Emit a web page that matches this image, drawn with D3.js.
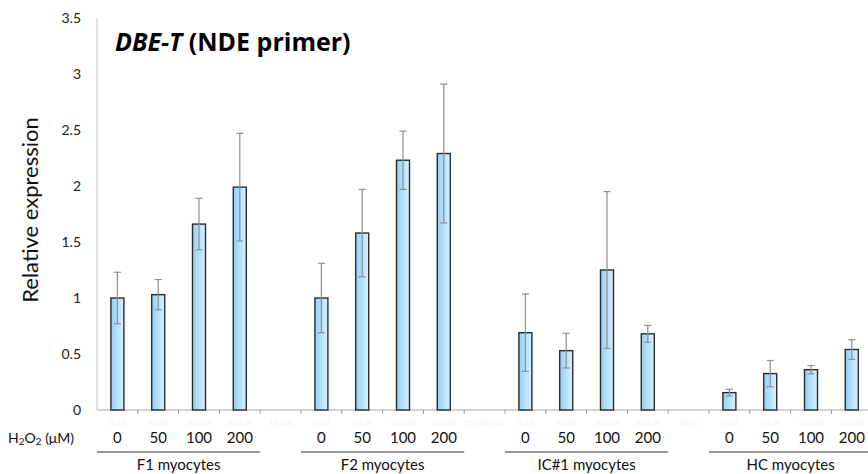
<!DOCTYPE html>
<html>
<head>
<meta charset="utf-8">
<script src="https://cdn.jsdelivr.net/npm/d3@7"></script>
<style>
  body { margin: 0; background: #fff; }
  svg { font-family: Lato, "Open Sans", sans-serif; }
</style>
</head>
<body>
<svg id="chart" width="868" height="474"></svg>
<script>

// data
var groups   = ["F1 myocytes", "F2 myocytes", "IC#1 myocytes", "HC myocytes"];
var doses    = ["0", "50", "100", "200"];
var hiddenLabels = ["0uM", "50uM", "100uM", "200uM", "1512B",
                    "0uM", "50uM", "100uM", "200uM", "1512B bcla",
                    "0uM", "50uM", "100uM", "200uM", "NOB",
                    "0uM", "50uM", "100uM", "200uM"];
var values = [[1.00, 1.03, 1.66, 1.99],
              [1.00, 1.58, 2.23, 2.29],
              [0.69, 0.53, 1.25, 0.68],
              [0.155, 0.325, 0.36, 0.54]];
var errors = [[0.23, 0.135, 0.23, 0.48],
              [0.31, 0.39, 0.26, 0.62],
              [0.345, 0.155, 0.70, 0.075],
              [0.03, 0.117, 0.037, 0.088]];
var yTicks = [0, 0.5, 1, 1.5, 2, 2.5, 3, 3.5];

// one slot per category, a spare slot between groups
var slots = [];
groups.forEach(function(g, gi){
    doses.forEach(function(d, di){ slots.push("g" + gi + "d" + di); });
    if( gi < groups.length - 1 ) slots.push("gap" + gi);
});

var bars = [];
groups.forEach(function(g, gi){
    doses.forEach(function(d, di){
        bars.push({ slot: "g" + gi + "d" + di, dose: d, v: values[gi][di], e: errors[gi][di] });
    });
});

var svg = d3.select("#chart");
var x0 = 97, step = 40.8;
var x = d3.scaleBand().domain(slots).range([x0, x0 + step * slots.length]).paddingInner(0).paddingOuter(0);
var y = d3.scaleLinear().domain([0, 3.5]).range([410, 18]);

// gradient for the bars
var grad = svg.append("defs").append("linearGradient")
    .attr("id", "barfill").attr("x1", "0%").attr("x2", "100%").attr("y1", "0%").attr("y2", "0%");
grad.append("stop").attr("offset", "0%").attr("stop-color", "#8fd1f8");
grad.append("stop").attr("offset", "100%").attr("stop-color", "#dbf1fd");

// y axis line (no tick marks) and labels
svg.append("line")
    .attr("x1", x0).attr("x2", x0).attr("y1", y(3.5)).attr("y2", y(0))
    .attr("stroke", "#c4c4c4").attr("stroke-width", 1);

svg.append("g").selectAll("text").data(yTicks).join("text")
    .attr("x", 81).attr("y", function(d){ return y(d) + 5; })
    .attr("text-anchor", "end").attr("font-size", 14).attr("fill", "#222")
    .text(function(d){ return d; });

svg.append("text")
    .attr("transform", "translate(38,210) rotate(-90)")
    .attr("text-anchor", "middle").attr("font-size", 22).attr("fill", "#111")
    .text("Relative expression");

// x axis
var xAxis = svg.append("g")
    .attr("transform", "translate(0," + y(0) + ")");
xAxis.append("line")
    .attr("x1", x0).attr("x2", 868).attr("stroke", "#c4c4c4").attr("stroke-width", 1.5);
xAxis.selectAll("line.tick").data(slots).join("line")
    .attr("class", "tick")
    .attr("x1", function(d){ return x(d) + x.bandwidth(); })
    .attr("x2", function(d){ return x(d) + x.bandwidth(); })
    .attr("y1", 0).attr("y2", 4)
    .attr("stroke", "#9a9a9a");
xAxis.selectAll("text.hidden").data(slots).join("text")
    .attr("class", "hidden")
    .attr("x", function(d){ return x(d) + x.bandwidth() / 2; })
    .attr("y", 16)
    .attr("text-anchor", "middle").attr("font-size", 8).attr("fill", "#f3f3f3")
    .text(function(d, i){ return hiddenLabels[i]; });

// bars
var barW = 13;
svg.append("g").selectAll("rect").data(bars).join("rect")
    .attr("x", function(d){ return x(d.slot) + x.bandwidth() / 2 - barW / 2; })
    .attr("y", function(d){ return y(d.v); })
    .attr("width", barW)
    .attr("height", function(d){ return y(0) - y(d.v); })
    .attr("fill", "url(#barfill)")
    .attr("stroke", "#2b2b2b").attr("stroke-width", 1.4);

// error bars
var eb = svg.append("g").attr("stroke", "#8e8e8e").attr("stroke-width", 1.2);
eb.selectAll("line.v").data(bars).join("line")
    .attr("class", "v")
    .attr("x1", function(d){ return x(d.slot) + x.bandwidth() / 2; })
    .attr("x2", function(d){ return x(d.slot) + x.bandwidth() / 2; })
    .attr("y1", function(d){ return y(d.v + d.e); })
    .attr("y2", function(d){ return y(d.v - d.e); });
[1, -1].forEach(function(s){
    eb.selectAll("line.c" + (s > 0 ? "t" : "b")).data(bars).join("line")
        .attr("class", "c" + (s > 0 ? "t" : "b"))
        .attr("x1", function(d){ return x(d.slot) + x.bandwidth() / 2 - 3.5; })
        .attr("x2", function(d){ return x(d.slot) + x.bandwidth() / 2 + 3.5; })
        .attr("y1", function(d){ return y(d.v + s * d.e); })
        .attr("y2", function(d){ return y(d.v + s * d.e); });
});

// dose labels
svg.append("g").selectAll("text").data(bars).join("text")
    .attr("x", function(d){ return x(d.slot) + x.bandwidth() / 2; })
    .attr("y", 443)
    .attr("text-anchor", "middle").attr("font-size", 15).attr("fill", "#111")
    .text(function(d){ return d.dose; });

var h2o2 = svg.append("text").attr("x", 8).attr("y", 443).attr("font-size", 14).attr("fill", "#111");
h2o2.append("tspan").text("H");
h2o2.append("tspan").attr("font-size", 10).attr("dy", 2).text("2");
h2o2.append("tspan").attr("dy", -2).text("O");
h2o2.append("tspan").attr("font-size", 10).attr("dy", 2).text("2");
h2o2.append("tspan").attr("dy", -2).text(" (\u03bcM)");

// group underlines and names
var grp = svg.append("g").selectAll("g").data(groups).join("g");
grp.append("line")
    .attr("x1", function(d, i){ return x("g" + i + "d0"); })
    .attr("x2", function(d, i){ return x("g" + i + "d3") + x.bandwidth(); })
    .attr("y1", 452).attr("y2", 452)
    .attr("stroke", "#333").attr("stroke-width", 1);
grp.append("text")
    .attr("x", function(d, i){ return (x("g" + i + "d0") + x("g" + i + "d3") + x.bandwidth()) / 2; })
    .attr("y", 470)
    .attr("text-anchor", "middle").attr("font-size", 15).attr("fill", "#111")
    .text(function(d){ return d; });

// title
var title = svg.append("text").attr("x", 115).attr("y", 51)
    .attr("font-family", "'Open Sans', sans-serif")
    .attr("font-size", 25).attr("font-weight", "bold").attr("fill", "#000");
title.append("tspan").attr("font-style", "italic").text("DBE-T");
title.append("tspan").text(" (NDE primer)");

</script>
</body>
</html>
